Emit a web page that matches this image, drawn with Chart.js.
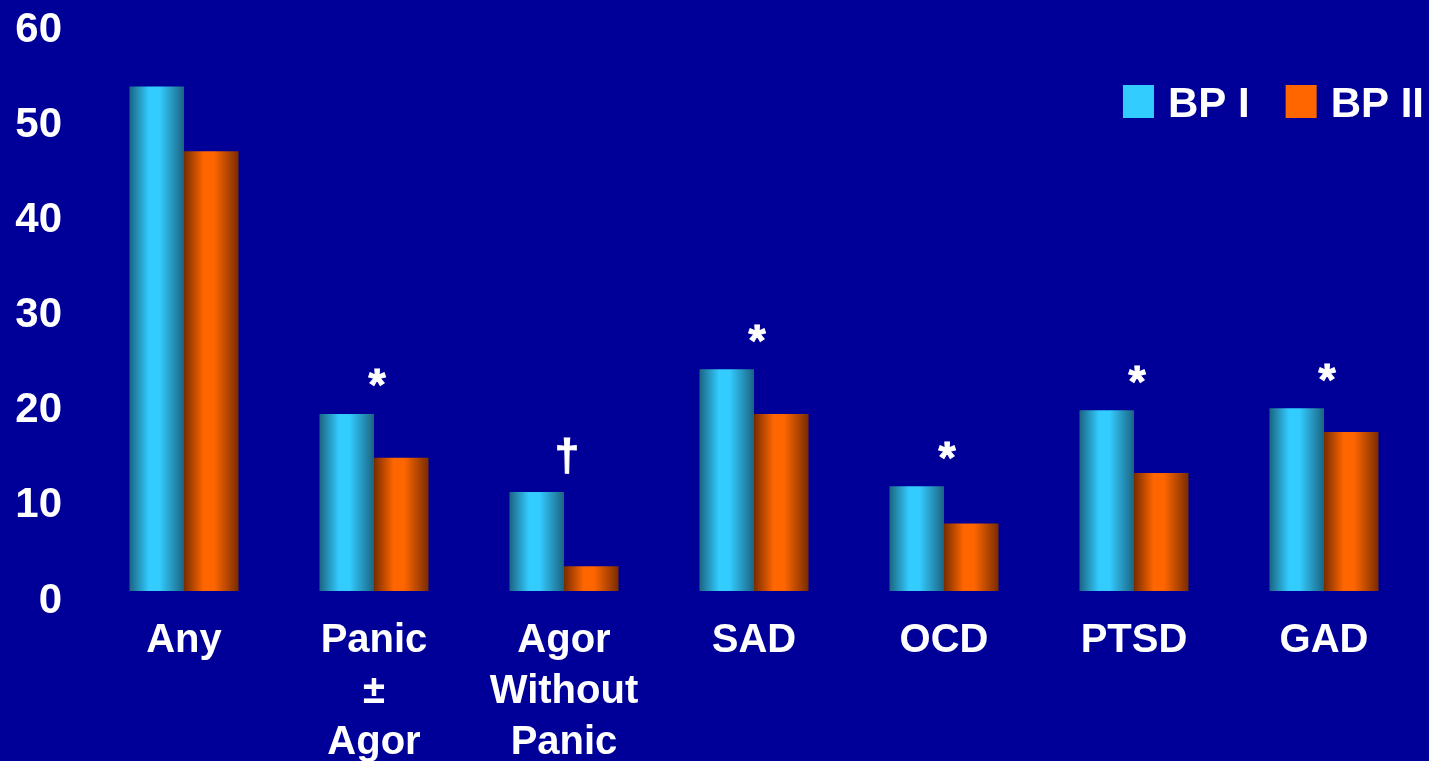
<!DOCTYPE html>
<html>
<head>
<meta charset="utf-8">
<title>Anxiety disorder comorbidity: BP I vs BP II</title>
<script src="https://cdn.jsdelivr.net/npm/chart.js@4/dist/chart.umd.min.js"></script>
<style>
  html, body { margin: 0; padding: 0; background: #000099; overflow: hidden; }
  #wrap { width: 1429px; height: 761px; position: relative; }
</style>
</head>
<body>
<div id="wrap"><canvas id="chart"></canvas></div>
<script>
// Categories (multi-line labels are arrays of lines)
const categories = ['Any', ['Panic', '±', 'Agor'], ['Agor', 'Without', 'Panic'], 'SAD', 'OCD', 'PTSD', 'GAD'];
// Prevalence (%) per group
const bpI  = [53.0, 18.6, 10.4, 23.3, 11.0, 19.0, 19.2];
const bpII = [46.2, 14.0, 2.6, 18.6, 7.1, 12.4, 16.7];
// Significance markers shown above each category
const markers = ['', '*', '†', '*', '*', '*', '*'];
// Value axis
const yMin = 0, yMax = 60, yStep = 10;

const FONT = "'Liberation Sans', Arial, Helvetica, sans-serif";
const BG = '#000099';
const CAT_PCT = 0.574;

// Horizontal "cylinder" shading for each bar
function barFill(dark, bright) {
  return function (ctx) {
    const chart = ctx.chart;
    const xs = chart.scales.x;
    if (!xs || ctx.type !== 'data' || !chart.chartArea) return bright;
    const n = chart.data.labels.length;
    const catW = xs.width / n;
    const group = catW * CAT_PCT;
    const barW = group / chart.data.datasets.length;
    const center = xs.getPixelForValue(ctx.dataIndex);
    const left = center - group / 2 + ctx.datasetIndex * barW;
    const g = chart.ctx.createLinearGradient(left, 0, left + barW, 0);
    g.addColorStop(0, dark);
    g.addColorStop(0.36, bright);
    g.addColorStop(0.55, bright);
    g.addColorStop(1, dark);
    return g;
  };
}

const backgroundPlugin = {
  id: 'bgFill',
  beforeDraw(chart) {
    const c = chart.ctx;
    c.save();
    c.fillStyle = BG;
    c.fillRect(0, 0, chart.width, chart.height);
    c.restore();
  }
};

const markerPlugin = {
  id: 'sigMarkers',
  afterDatasetsDraw(chart) {
    const c = chart.ctx;
    const xs = chart.scales.x, ys = chart.scales.y;
    c.save();
    c.fillStyle = '#ffffff';
    c.strokeStyle = '#ffffff';
    c.lineWidth = 1;
    c.font = 'bold 44px ' + FONT;
    c.textAlign = 'center';
    c.textBaseline = 'alphabetic';
    markers.forEach((m, i) => {
      if (!m) return;
      const top = ys.getPixelForValue(Math.max(bpI[i], bpII[i]));
      const x = xs.getPixelForValue(i) + 3;
      const cy = top - 36;
      const mt = c.measureText(m);
      const base = cy + (mt.actualBoundingBoxAscent - mt.actualBoundingBoxDescent) / 2;
      c.fillText(m, x, base);
      c.strokeText(m, x, base);
    });
    c.restore();
  }
};

const legendPlugin = {
  id: 'boxLegend',
  afterDraw(chart) {
    const c = chart.ctx;
    const sets = chart.data.datasets;
    c.save();
    c.font = 'bold 42px ' + FONT;
    c.textBaseline = 'alphabetic';
    c.textAlign = 'left';
    const box = 31, boxH = 33, gap = 14, itemGap = 36;
    const widths = sets.map(d => c.measureText(d.label).width);
    let total = 0;
    widths.forEach((w, i) => { total += box + gap + w + (i ? itemGap : 0); });
    let x = chart.width - 5 - total;
    const top = 85, base = 117;
    sets.forEach((d, i) => {
      c.fillStyle = d.legendColor;
      c.fillRect(x, top, box, boxH);
      c.fillStyle = '#ffffff';
      c.fillText(d.label, x + box + gap, base);
      x += box + gap + widths[i] + itemGap;
    });
    c.restore();
  }
};

new Chart(document.getElementById('chart'), {
  type: 'bar',
  data: {
    labels: categories,
    datasets: [
      { label: 'BP I', data: bpI, legendColor: '#33CCFF', backgroundColor: barFill('#1b6482', '#33CCFF') },
      { label: 'BP II', data: bpII, legendColor: '#FF6600', backgroundColor: barFill('#782c00', '#FF6600') }
    ]
  },
  options: {
    responsive: true,
    maintainAspectRatio: false,
    animation: false,
    events: [],
    layout: { padding: { top: 20, right: 10, left: 0, bottom: 0 } },
    datasets: { bar: { barPercentage: 1, categoryPercentage: CAT_PCT, borderWidth: 0 } },
    plugins: { legend: { display: false }, tooltip: { enabled: false } },
    scales: {
      x: {
        grid: { display: false, drawTicks: false },
        border: { display: false },
        ticks: {
          color: '#ffffff',
          padding: 24,
          maxRotation: 0,
          autoSkip: false,
          font: { family: FONT, size: 40, weight: 'bold', lineHeight: '51px' }
        },
        afterFit(scale) { scale.height = 170; scale.paddingLeft = 0; scale.paddingRight = 0; }
      },
      y: {
        min: yMin, max: yMax,
        grid: { display: false, drawTicks: false },
        border: { display: false },
        ticks: {
          stepSize: yStep,
          color: '#ffffff',
          padding: 27,
          labelOffset: 10,
          font: { family: FONT, size: 42, weight: 'bold', lineHeight: 1 }
        },
        afterFit(scale) { scale.width = 89; scale.paddingTop = 0; scale.paddingBottom = 0; }
      }
    }
  },
  plugins: [backgroundPlugin, markerPlugin, legendPlugin]
});
</script>
</body>
</html>
